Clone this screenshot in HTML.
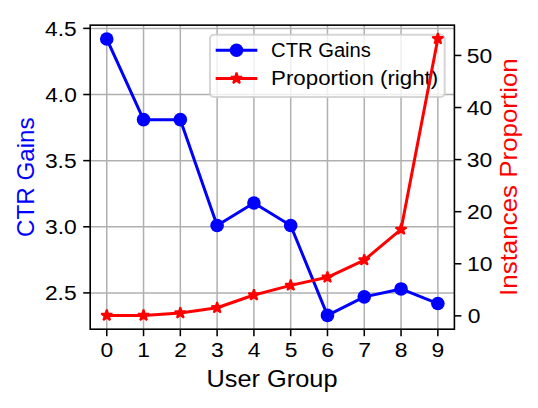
<!DOCTYPE html>
<html lang="en"><head><meta charset="utf-8"><title>CTR Gains vs Instances Proportion by User Group</title>
<style>
html,body{margin:0;padding:0;background:#fff;}
body{width:538px;height:408px;overflow:hidden;font-family:"Liberation Sans",sans-serif;}
svg{display:block;}
svg text{font-family:"Liberation Sans",sans-serif;}
</style></head><body>
<svg width="538" height="408" viewBox="0 0 538 408" role="img" aria-label="CTR Gains and Instances Proportion by User Group">
<rect width="538" height="408" fill="#fff"/>
<clipPath id="axclip"><rect x="90.2" y="25.15" width="364.2" height="304.05"/></clipPath>
<g stroke="#b0b0b0" stroke-width="1.5" clip-path="url(#axclip)">
<line x1="106.75" y1="25.15" x2="106.75" y2="329.2"/>
<line x1="143.54" y1="25.15" x2="143.54" y2="329.2"/>
<line x1="180.33" y1="25.15" x2="180.33" y2="329.2"/>
<line x1="217.12" y1="25.15" x2="217.12" y2="329.2"/>
<line x1="253.91" y1="25.15" x2="253.91" y2="329.2"/>
<line x1="290.69" y1="25.15" x2="290.69" y2="329.2"/>
<line x1="327.48" y1="25.15" x2="327.48" y2="329.2"/>
<line x1="364.27" y1="25.15" x2="364.27" y2="329.2"/>
<line x1="401.06" y1="25.15" x2="401.06" y2="329.2"/>
<line x1="437.85" y1="25.15" x2="437.85" y2="329.2"/>
<line x1="90.2" y1="292.90" x2="454.4" y2="292.90"/>
<line x1="90.2" y1="226.77" x2="454.4" y2="226.77"/>
<line x1="90.2" y1="160.64" x2="454.4" y2="160.64"/>
<line x1="90.2" y1="94.52" x2="454.4" y2="94.52"/>
<line x1="90.2" y1="28.39" x2="454.4" y2="28.39"/>
</g>
<g clip-path="url(#axclip)"><polyline points="106.75,38.97 143.54,119.64 180.33,119.64 217.12,225.45 253.91,202.96 290.69,225.45 327.48,315.38 364.27,296.86 401.06,288.93 437.85,303.48" fill="none" stroke="#0000ff" stroke-width="3.0" stroke-linejoin="round" stroke-linecap="square"/>
<circle cx="106.75" cy="38.97" r="6.8" fill="#0000ff"/>
<circle cx="143.54" cy="119.64" r="6.8" fill="#0000ff"/>
<circle cx="180.33" cy="119.64" r="6.8" fill="#0000ff"/>
<circle cx="217.12" cy="225.45" r="6.8" fill="#0000ff"/>
<circle cx="253.91" cy="202.96" r="6.8" fill="#0000ff"/>
<circle cx="290.69" cy="225.45" r="6.8" fill="#0000ff"/>
<circle cx="327.48" cy="315.38" r="6.8" fill="#0000ff"/>
<circle cx="364.27" cy="296.86" r="6.8" fill="#0000ff"/>
<circle cx="401.06" cy="288.93" r="6.8" fill="#0000ff"/>
<circle cx="437.85" cy="303.48" r="6.8" fill="#0000ff"/>
</g>
<g stroke="#000" stroke-width="1.55">
<line x1="106.75" y1="329.2" x2="106.75" y2="336.2"/>
<line x1="143.54" y1="329.2" x2="143.54" y2="336.2"/>
<line x1="180.33" y1="329.2" x2="180.33" y2="336.2"/>
<line x1="217.12" y1="329.2" x2="217.12" y2="336.2"/>
<line x1="253.91" y1="329.2" x2="253.91" y2="336.2"/>
<line x1="290.69" y1="329.2" x2="290.69" y2="336.2"/>
<line x1="327.48" y1="329.2" x2="327.48" y2="336.2"/>
<line x1="364.27" y1="329.2" x2="364.27" y2="336.2"/>
<line x1="401.06" y1="329.2" x2="401.06" y2="336.2"/>
<line x1="437.85" y1="329.2" x2="437.85" y2="336.2"/>
<line x1="90.2" y1="292.90" x2="83.2" y2="292.90"/>
<line x1="90.2" y1="226.77" x2="83.2" y2="226.77"/>
<line x1="90.2" y1="160.64" x2="83.2" y2="160.64"/>
<line x1="90.2" y1="94.52" x2="83.2" y2="94.52"/>
<line x1="90.2" y1="28.39" x2="83.2" y2="28.39"/>
<line x1="454.4" y1="315.85" x2="461.4" y2="315.85"/>
<line x1="454.4" y1="263.77" x2="461.4" y2="263.77"/>
<line x1="454.4" y1="211.69" x2="461.4" y2="211.69"/>
<line x1="454.4" y1="159.61" x2="461.4" y2="159.61"/>
<line x1="454.4" y1="107.53" x2="461.4" y2="107.53"/>
<line x1="454.4" y1="55.45" x2="461.4" y2="55.45"/>
</g>
<text transform="translate(106.755 357.300)" x="-6.36" y="0" font-size="20.00" textLength="12.72" lengthAdjust="spacingAndGlyphs" fill="#000">0</text>
<text transform="translate(143.542 357.300)" x="-6.36" y="0" font-size="20.00" textLength="12.72" lengthAdjust="spacingAndGlyphs" fill="#000">1</text>
<text transform="translate(180.580 357.300)" x="-6.36" y="0" font-size="20.00" textLength="12.72" lengthAdjust="spacingAndGlyphs" fill="#000">2</text>
<text transform="translate(217.368 357.300)" x="-6.36" y="0" font-size="20.00" textLength="12.72" lengthAdjust="spacingAndGlyphs" fill="#000">3</text>
<text transform="translate(254.206 357.300)" x="-6.36" y="0" font-size="20.00" textLength="12.72" lengthAdjust="spacingAndGlyphs" fill="#000">4</text>
<text transform="translate(290.994 357.300)" x="-6.36" y="0" font-size="20.00" textLength="12.72" lengthAdjust="spacingAndGlyphs" fill="#000">5</text>
<text transform="translate(327.632 357.300)" x="-6.36" y="0" font-size="20.00" textLength="12.72" lengthAdjust="spacingAndGlyphs" fill="#000">6</text>
<text transform="translate(364.570 357.300)" x="-6.36" y="0" font-size="20.00" textLength="12.72" lengthAdjust="spacingAndGlyphs" fill="#000">7</text>
<text transform="translate(401.058 357.300)" x="-6.36" y="0" font-size="20.00" textLength="12.72" lengthAdjust="spacingAndGlyphs" fill="#000">8</text>
<text transform="translate(437.945 357.300)" x="-6.36" y="0" font-size="20.00" textLength="12.72" lengthAdjust="spacingAndGlyphs" fill="#000">9</text>
<text transform="translate(74.900 300.347)" x="-29.98" y="0" font-size="20.00" textLength="31.72" lengthAdjust="spacingAndGlyphs" fill="#000">2.5</text>
<text transform="translate(75.400 234.120)" x="-30.40" y="0" font-size="20.00" textLength="31.72" lengthAdjust="spacingAndGlyphs" fill="#000">3.0</text>
<text transform="translate(74.900 167.793)" x="-29.98" y="0" font-size="20.00" textLength="31.72" lengthAdjust="spacingAndGlyphs" fill="#000">3.5</text>
<text transform="translate(75.450 101.767)" x="-30.27" y="0" font-size="20.00" textLength="31.60" lengthAdjust="spacingAndGlyphs" fill="#000">4.0</text>
<text transform="translate(74.900 35.540)" x="-29.85" y="0" font-size="20.00" textLength="31.60" lengthAdjust="spacingAndGlyphs" fill="#000">4.5</text>
<text transform="translate(469.050 322.800)" x="-1.32" y="0" font-size="20.00" textLength="12.72" lengthAdjust="spacingAndGlyphs" fill="#000">0</text>
<text transform="translate(470.130 270.820)" x="-3.20" y="0" font-size="20.00" textLength="25.47" lengthAdjust="spacingAndGlyphs" fill="#000">10</text>
<text transform="translate(469.350 218.840)" x="-2.46" y="0" font-size="20.00" textLength="25.47" lengthAdjust="spacingAndGlyphs" fill="#000">20</text>
<text transform="translate(469.350 166.710)" x="-2.52" y="0" font-size="20.00" textLength="25.47" lengthAdjust="spacingAndGlyphs" fill="#000">30</text>
<text transform="translate(468.750 114.630)" x="-1.98" y="0" font-size="20.00" textLength="25.35" lengthAdjust="spacingAndGlyphs" fill="#000">40</text>
<text transform="translate(469.200 62.600)" x="-2.54" y="0" font-size="20.00" textLength="25.47" lengthAdjust="spacingAndGlyphs" fill="#000">50</text>
<text transform="translate(272.400 386.900)" x="-65.86" y="0" font-size="23.20" textLength="130.98" lengthAdjust="spacingAndGlyphs" fill="#000">User Group</text>
<text transform="translate(33.700 177.100) rotate(-90)" x="-59.82" y="0" font-size="23.20" textLength="119.46" lengthAdjust="spacingAndGlyphs" fill="#0000ff">CTR Gains</text>
<text transform="translate(517.300 176.900) rotate(-90)" x="-119.00" y="0" font-size="23.20" textLength="237.70" lengthAdjust="spacingAndGlyphs" fill="#ff0000">Instances Proportion</text>
<rect x="210.0" y="34.7" width="234.7" height="62.3" rx="4" ry="4" fill="#fff" fill-opacity="0.8" stroke="#cccccc" stroke-opacity="0.8" stroke-width="2"/>
<line x1="215.7" y1="50.3" x2="257.3" y2="50.3" stroke="#0000ff" stroke-width="3.0"/>
<circle cx="236.5" cy="50.3" r="6.8" fill="#0000ff"/>
<line x1="215.7" y1="78.45" x2="257.3" y2="78.45" stroke="#ff0000" stroke-width="3.0"/>
<polygon points="236.50,72.65 235.20,76.66 230.98,76.66 234.39,79.13 233.09,83.14 236.50,80.67 239.91,83.14 238.61,79.13 242.02,76.66 237.80,76.66" fill="#ff0000" stroke="#ff0000" stroke-width="1.93" stroke-linejoin="bevel"/>
<text transform="translate(271.100 56.900)" x="0.00" y="0" font-size="19.36" textLength="99.84" lengthAdjust="spacingAndGlyphs" fill="#000">CTR Gains</text>
<text transform="translate(271.100 84.950)" x="0.00" y="0" font-size="19.36" textLength="167.05" lengthAdjust="spacingAndGlyphs" fill="#000">Proportion (right)</text>
<g clip-path="url(#axclip)"><polyline points="106.75,315.43 143.54,315.43 180.33,312.99 217.12,307.78 253.91,295.02 290.69,285.38 327.48,277.31 364.27,260.12 401.06,229.40 437.85,38.78" fill="none" stroke="#ff0000" stroke-width="3.0" stroke-linejoin="round"/>
<polygon points="106.75,309.63 105.45,313.64 101.24,313.64 104.65,316.12 103.35,320.13 106.75,317.65 110.16,320.13 108.86,316.12 112.27,313.64 108.06,313.64" fill="#ff0000" stroke="#ff0000" stroke-width="1.93" stroke-linejoin="bevel"/>
<polygon points="143.54,309.63 142.24,313.64 138.03,313.64 141.44,316.12 140.13,320.13 143.54,317.65 146.95,320.13 145.65,316.12 149.06,313.64 144.84,313.64" fill="#ff0000" stroke="#ff0000" stroke-width="1.93" stroke-linejoin="bevel"/>
<polygon points="180.33,307.19 179.03,311.19 174.81,311.19 178.22,313.67 176.92,317.68 180.33,315.20 183.74,317.68 182.44,313.67 185.85,311.19 181.63,311.19" fill="#ff0000" stroke="#ff0000" stroke-width="1.93" stroke-linejoin="bevel"/>
<polygon points="217.12,301.98 215.82,305.99 211.60,305.99 215.01,308.46 213.71,312.47 217.12,309.99 220.53,312.47 219.23,308.46 222.63,305.99 218.42,305.99" fill="#ff0000" stroke="#ff0000" stroke-width="1.93" stroke-linejoin="bevel"/>
<polygon points="253.91,289.22 252.60,293.23 248.39,293.23 251.80,295.70 250.50,299.71 253.91,297.23 257.32,299.71 256.01,295.70 259.42,293.23 255.21,293.23" fill="#ff0000" stroke="#ff0000" stroke-width="1.93" stroke-linejoin="bevel"/>
<polygon points="290.69,279.58 289.39,283.59 285.18,283.59 288.59,286.07 287.28,290.08 290.69,287.60 294.10,290.08 292.80,286.07 296.21,283.59 292.00,283.59" fill="#ff0000" stroke="#ff0000" stroke-width="1.93" stroke-linejoin="bevel"/>
<polygon points="327.48,271.51 326.18,275.52 321.97,275.52 325.37,278.00 324.07,282.00 327.48,279.53 330.89,282.00 329.59,278.00 333.00,275.52 328.78,275.52" fill="#ff0000" stroke="#ff0000" stroke-width="1.93" stroke-linejoin="bevel"/>
<polygon points="364.27,254.32 362.97,258.33 358.75,258.33 362.16,260.81 360.86,264.82 364.27,262.34 367.68,264.82 366.38,260.81 369.79,258.33 365.57,258.33" fill="#ff0000" stroke="#ff0000" stroke-width="1.93" stroke-linejoin="bevel"/>
<polygon points="401.06,223.60 399.76,227.60 395.54,227.60 398.95,230.08 397.65,234.09 401.06,231.61 404.47,234.09 403.16,230.08 406.57,227.60 402.36,227.60" fill="#ff0000" stroke="#ff0000" stroke-width="1.93" stroke-linejoin="bevel"/>
<polygon points="437.85,32.98 436.54,36.99 432.33,36.99 435.74,39.47 434.44,43.48 437.85,41.00 441.25,43.48 439.95,39.47 443.36,36.99 439.15,36.99" fill="#ff0000" stroke="#ff0000" stroke-width="1.93" stroke-linejoin="bevel"/>
</g>
<rect x="90.2" y="25.15" width="364.2" height="304.05" fill="none" stroke="#000" stroke-width="1.6"/>
</svg>
</body></html>
